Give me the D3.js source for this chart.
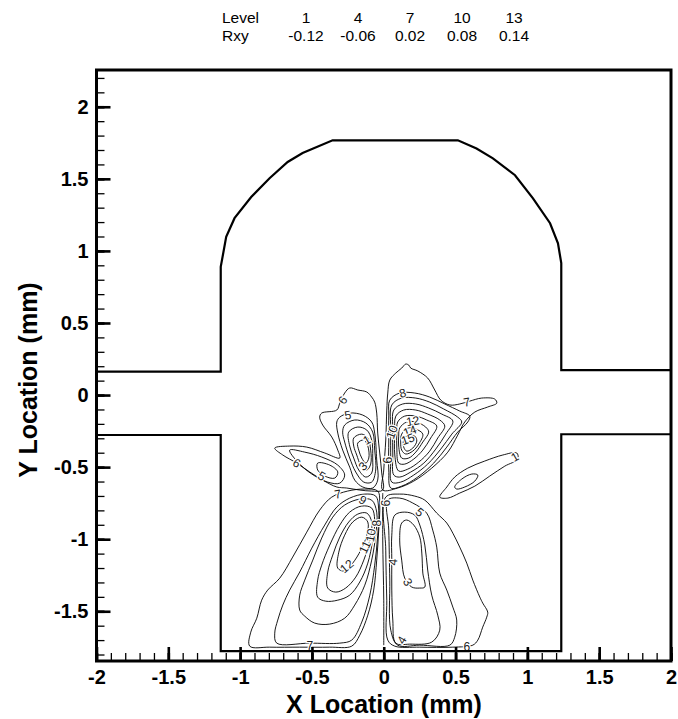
<!DOCTYPE html>
<html>
<head>
<meta charset="utf-8">
<script src="https://cdn.jsdelivr.net/npm/d3@7"></script>
<style>
body { margin: 0; background: #fff; }
text { font-family: "Liberation Sans", Arial, Helvetica, sans-serif; }
</style>
</head>
<body>
<svg id="chart" width="678" height="719"></svg>
<script>
'use strict';

// legend (contour level -> Rxy value)
var legendLevels = ['1', '4', '7', '10', '13'];
var legendValues = ['-0.12', '-0.06', '0.02', '0.08', '0.14'];

// axis ticks
var xTicks = [-2, -1.5, -1, -0.5, 0, 0.5, 1, 1.5, 2];
var xTickLabels = ['-2', '-1.5', '-1', '-0.5', '0', '0.5', '1', '1.5', '2'];
var yTicks = [-1.5, -1, -0.5, 0, 0.5, 1, 1.5, 2];
var yTickLabels = ['-1.5', '-1', '-0.5', '0', '0.5', '1', '1.5', '2'];

// channel walls (mm)
var upperWall = [[-2, 0.162], [-1.135, 0.162], [-1.135, 0.889], [-1.097, 1.097], [-1.039, 1.227], [-0.923, 1.374],
	[-0.795, 1.504], [-0.669, 1.617], [-0.565, 1.679], [-0.356, 1.767], [0.516, 1.767], [0.646, 1.710],
	[0.760, 1.642], [0.914, 1.525], [1.039, 1.365], [1.158, 1.192], [1.213, 1.053], [1.236, 0.915],
	[1.236, 0.173], [2, 0.173]];
var lowerWall = [[-2, -0.277], [-1.135, -0.277], [-1.135, -1.777], [1.236, -1.777], [1.236, -0.272], [2, -0.272]];

// upper left lobe (levels 6 .. 1)
var ul6 = [[-0.007, -0.659], [-0.014, -0.541], [-0.028, -0.402], [-0.042, -0.264], [-0.049, -0.125], [-0.063, -0.049],
	[-0.084, -0.014], [-0.118, 0.021], [-0.181, 0.035], [-0.237, 0.049], [-0.272, 0.014], [-0.306, -0.056],
	[-0.327, -0.104], [-0.432, -0.125], [-0.446, -0.153], [-0.425, -0.208], [-0.362, -0.291], [-0.320, -0.382],
	[-0.306, -0.437], [-0.411, -0.402], [-0.536, -0.361], [-0.655, -0.354], [-0.759, -0.368], [-0.703, -0.416],
	[-0.606, -0.472], [-0.515, -0.534], [-0.425, -0.590], [-0.327, -0.638], [-0.258, -0.645], [-0.167, -0.659],
	[-0.084, -0.666]];
var ul5 = [[-0.306, -0.153], [-0.237, -0.125], [-0.146, -0.139], [-0.084, -0.187], [-0.063, -0.264], [-0.049, -0.451],
	[-0.042, -0.590], [-0.077, -0.645], [-0.146, -0.638], [-0.202, -0.590], [-0.237, -0.500], [-0.286, -0.382],
	[-0.320, -0.264], [-0.327, -0.187]];
var ul4 = [[-0.272, -0.208], [-0.202, -0.173], [-0.125, -0.194], [-0.077, -0.257], [-0.063, -0.382], [-0.056, -0.520],
	[-0.084, -0.604], [-0.139, -0.604], [-0.195, -0.534], [-0.237, -0.437], [-0.272, -0.326], [-0.286, -0.257]];
var ul3 = [[-0.244, -0.257], [-0.181, -0.222], [-0.118, -0.243], [-0.084, -0.312], [-0.077, -0.437], [-0.084, -0.541],
	[-0.125, -0.569], [-0.174, -0.520], [-0.209, -0.437], [-0.237, -0.354]];
var ul2 = [[-0.209, -0.298], [-0.153, -0.271], [-0.111, -0.298], [-0.091, -0.382], [-0.091, -0.479], [-0.118, -0.520],
	[-0.160, -0.486], [-0.188, -0.416], [-0.209, -0.354]];
var ul1 = [[-0.181, -0.333], [-0.139, -0.312], [-0.111, -0.354], [-0.104, -0.437], [-0.125, -0.472], [-0.153, -0.437],
	[-0.174, -0.382]];

// far left lobe
var fl5 = [[-0.655, -0.382], [-0.550, -0.396], [-0.432, -0.430], [-0.320, -0.486], [-0.272, -0.555], [-0.306, -0.611],
	[-0.390, -0.604], [-0.501, -0.548], [-0.599, -0.465]];
var fl4 = [[-0.460, -0.472], [-0.376, -0.486], [-0.320, -0.534], [-0.341, -0.576], [-0.411, -0.562], [-0.460, -0.520]];

// upper right lobe (levels 7 .. 15)
var ur7 = [[-0.007, -0.659], [0, -0.520], [0.014, -0.312], [0.021, -0.104], [0.028, 0.014], [0.042, 0.104],
	[0.084, 0.153], [0.125, 0.187], [0.153, 0.215], [0.174, 0.208], [0.188, 0.187], [0.237, 0.167], [0.306, 0.118],
	[0.355, 0.035], [0.397, -0.035], [0.460, -0.069], [0.529, -0.062], [0.599, -0.042], [0.682, -0.021],
	[0.773, -0.028], [0.787, -0.056], [0.724, -0.083], [0.634, -0.118], [0.564, -0.187], [0.515, -0.278],
	[0.446, -0.396], [0.334, -0.507], [0.209, -0.597], [0.097, -0.645]];
var ur8 = [[0.042, -0.035], [0.111, 0.014], [0.216, 0.014], [0.320, -0.014], [0.425, -0.062], [0.529, -0.111],
	[0.599, -0.146], [0.585, -0.187], [0.515, -0.257], [0.439, -0.361], [0.348, -0.472], [0.237, -0.569],
	[0.125, -0.632], [0.049, -0.645], [0.035, -0.520], [0.035, -0.312], [0.035, -0.139]];
var ur9 = [[0.056, -0.069], [0.125, -0.021], [0.223, -0.021], [0.320, -0.049], [0.418, -0.097], [0.515, -0.153],
	[0.543, -0.187], [0.474, -0.271], [0.397, -0.375], [0.306, -0.479], [0.209, -0.555], [0.118, -0.604],
	[0.056, -0.604], [0.049, -0.451], [0.049, -0.243]];
var ur10 = [[0.070, -0.104], [0.132, -0.062], [0.223, -0.062], [0.313, -0.090], [0.404, -0.132], [0.481, -0.180],
	[0.432, -0.271], [0.362, -0.375], [0.279, -0.472], [0.188, -0.534], [0.111, -0.569], [0.070, -0.555],
	[0.063, -0.416], [0.063, -0.243]];
var ur11 = [[0.084, -0.146], [0.139, -0.104], [0.223, -0.104], [0.306, -0.132], [0.390, -0.173], [0.425, -0.215],
	[0.376, -0.298], [0.320, -0.389], [0.244, -0.465], [0.167, -0.514], [0.104, -0.527], [0.077, -0.416],
	[0.077, -0.257]];
var ur12 = [[0.097, -0.187], [0.146, -0.146], [0.223, -0.146], [0.299, -0.173], [0.369, -0.215], [0.327, -0.298],
	[0.272, -0.382], [0.209, -0.444], [0.146, -0.479], [0.104, -0.472], [0.091, -0.368], [0.091, -0.264]];
var ur13 = [[0.111, -0.229], [0.160, -0.187], [0.223, -0.187], [0.292, -0.222], [0.313, -0.257], [0.272, -0.326],
	[0.223, -0.396], [0.174, -0.437], [0.125, -0.437], [0.104, -0.354], [0.104, -0.285]];
var ur14 = [[0.125, -0.271], [0.167, -0.229], [0.223, -0.236], [0.272, -0.271], [0.244, -0.340], [0.202, -0.389],
	[0.153, -0.409], [0.125, -0.382], [0.118, -0.326]];
var ur15 = [[0.139, -0.312], [0.174, -0.278], [0.216, -0.285], [0.230, -0.319], [0.202, -0.368], [0.160, -0.389],
	[0.139, -0.361]];

// far right lobe
var fr1 = [[0.390, -0.708], [0.439, -0.638], [0.494, -0.569], [0.585, -0.507], [0.703, -0.458], [0.829, -0.416],
	[0.926, -0.402], [0.933, -0.444], [0.843, -0.493], [0.738, -0.562], [0.634, -0.632], [0.529, -0.680],
	[0.446, -0.715]];
var frIn = [[0.494, -0.638], [0.543, -0.583], [0.613, -0.548], [0.655, -0.555], [0.634, -0.597], [0.564, -0.638],
	[0.508, -0.652]];

// lower left lobe (levels 7 .. 12)
var ll7 = [[-0.933, -1.742], [-0.926, -1.645], [-0.884, -1.548], [-0.850, -1.423], [-0.808, -1.353], [-0.724, -1.270],
	[-0.634, -1.124], [-0.536, -0.951], [-0.446, -0.798], [-0.362, -0.708], [-0.251, -0.666], [-0.132, -0.652],
	[-0.042, -0.666], [-0.028, -0.763], [-0.035, -0.937], [-0.049, -1.145], [-0.070, -1.353], [-0.111, -1.527],
	[-0.167, -1.666], [-0.223, -1.742], [-0.376, -1.749], [-0.585, -1.749], [-0.794, -1.749]];
var ll8 = [[-0.745, -1.721], [-0.759, -1.652], [-0.738, -1.561], [-0.703, -1.457], [-0.655, -1.353], [-0.585, -1.228],
	[-0.501, -1.062], [-0.411, -0.902], [-0.327, -0.777], [-0.237, -0.715], [-0.132, -0.687], [-0.056, -0.701],
	[-0.035, -0.798], [-0.042, -0.972], [-0.063, -1.180], [-0.097, -1.388], [-0.153, -1.575], [-0.223, -1.700],
	[-0.306, -1.721], [-0.515, -1.721]];
var ll9 = [[-0.585, -1.492], [-0.585, -1.388], [-0.550, -1.284], [-0.494, -1.145], [-0.432, -0.992], [-0.355, -0.847],
	[-0.272, -0.763], [-0.167, -0.722], [-0.084, -0.729], [-0.049, -0.812], [-0.056, -0.972], [-0.084, -1.145],
	[-0.132, -1.319], [-0.202, -1.457], [-0.272, -1.548], [-0.376, -1.589], [-0.481, -1.582], [-0.550, -1.534]];
var ll10 = [[-0.460, -1.402], [-0.460, -1.284], [-0.432, -1.180], [-0.376, -1.041], [-0.306, -0.902], [-0.237, -0.812],
	[-0.153, -0.770], [-0.084, -0.784], [-0.063, -0.867], [-0.077, -1.006], [-0.111, -1.166], [-0.167, -1.297],
	[-0.237, -1.388], [-0.320, -1.423], [-0.404, -1.430]];
var ll11 = [[-0.390, -1.339], [-0.390, -1.228], [-0.355, -1.110], [-0.306, -0.985], [-0.244, -0.881], [-0.181, -0.826],
	[-0.118, -0.819], [-0.084, -0.881], [-0.097, -1.006], [-0.139, -1.145], [-0.195, -1.263], [-0.265, -1.339],
	[-0.334, -1.367]];
var ll12 = [[-0.320, -1.201], [-0.313, -1.090], [-0.272, -0.972], [-0.216, -0.881], [-0.153, -0.847], [-0.111, -0.881],
	[-0.118, -0.972], [-0.160, -1.076], [-0.216, -1.166], [-0.272, -1.221]];

// lower right lobe (levels 6 .. 3)
var lr6 = [[0.014, -0.708], [0.111, -0.687], [0.216, -0.701], [0.286, -0.729], [0.369, -0.819], [0.439, -0.888],
	[0.481, -0.958], [0.529, -1.055], [0.578, -1.166], [0.620, -1.284], [0.669, -1.402], [0.689, -1.443],
	[0.724, -1.506], [0.717, -1.541], [0.689, -1.610], [0.655, -1.700], [0.620, -1.735], [0.481, -1.749],
	[0.251, -1.749], [0.077, -1.742], [0.028, -1.700], [0.021, -1.423], [0.014, -1.076]];
var lr5 = [[0.028, -0.729], [0.111, -0.715], [0.202, -0.749], [0.299, -0.819], [0.341, -0.937], [0.369, -1.055],
	[0.390, -1.235], [0.439, -1.353], [0.481, -1.471], [0.508, -1.561], [0.494, -1.680], [0.460, -1.735],
	[0.251, -1.735], [0.097, -1.735], [0.049, -1.631], [0.042, -1.284], [0.035, -0.937]];
var lr4 = [[0.077, -0.833], [0.146, -0.812], [0.216, -0.833], [0.251, -0.902], [0.286, -1.041], [0.306, -1.214],
	[0.334, -1.388], [0.376, -1.527], [0.390, -1.631], [0.334, -1.714], [0.181, -1.728], [0.084, -1.721],
	[0.063, -1.561], [0.056, -1.353], [0.056, -1.145], [0.056, -0.972]];
var lr3 = [[0.125, -0.888], [0.160, -0.867], [0.209, -0.902], [0.251, -0.985], [0.265, -1.096], [0.272, -1.235],
	[0.286, -1.332], [0.251, -1.339], [0.195, -1.332], [0.146, -1.270], [0.125, -1.145], [0.111, -1.006]];

// open line between the two lower lobes
var centerLower = [[-0.007, -0.680], [-0.007, -1.006], [0, -1.423], [0, -1.735]];

var closedContours = [ul6, ul5, ul4, ul3, ul2, ul1, fl5, fl4, ur7, ur8, ur9, ur10, ur11, ur12, ur13, ur14, ur15,
	fr1, frIn, ll7, ll8, ll9, ll10, ll11, ll12, lr6, lr5, lr4, lr3];
var openContours = [centerLower];

// contour labels: text, x, y, angle
var contourLabels = [
	['6', -0.286, -0.035, -55], ['5', -0.251, -0.139, -10], ['1', -0.118, -0.312, -30], ['3', -0.146, -0.493, -45],
	['6', -0.606, -0.472, 30], ['5', -0.432, -0.562, 30], ['8', 0.132, 0.014, -15], ['7', 0.578, -0.049, -10],
	['12', 0.202, -0.180, -10], ['14', 0.181, -0.250, -20], ['15', 0.167, -0.305, -20], ['10', 0.056, -0.257, -70],
	['6', 0.028, -0.451, -90], ['1', 0.912, -0.430, -30], ['7', -0.320, -0.687, -10], ['9', -0.146, -0.729, 30],
	['9', 0.007, -0.749, 90], ['8', -0.049, -0.888, -90], ['10', -0.091, -0.972, -80], ['11', -0.132, -1.055, -65],
	['12', -0.258, -1.187, -40], ['4', 0.063, -1.159, -85], ['3', 0.167, -1.297, 60], ['5', 0.251, -0.812, 40],
	['4', 0.125, -1.700, -60], ['7', -0.515, -1.742, 0], ['6', 0.578, -1.749, 0]
];

var svg = d3.select('#chart');

var x = d3.scaleLinear().domain([-2, 2]).range([96.5, 671]);
var y = d3.scaleLinear().domain([-1.845, 2.255]).range([661, 70]);

// legend
var legendX = d3.scalePoint().domain(legendLevels).range([306, 514]);
var legend = svg.append('g').attr('font-size', 15.5).attr('fill', '#000');
legend.append('text').attr('x', 222).attr('y', 23).text('Level');
legend.append('text').attr('x', 222).attr('y', 41).text('Rxy');
legendLevels.forEach(function(lv, i) {
	legend.append('text').attr('x', legendX(lv)).attr('y', 23).attr('text-anchor', 'middle').text(lv);
	legend.append('text').attr('x', legendX(lv)).attr('y', 41).attr('text-anchor', 'middle').text(legendValues[i]);
});

// contours
var lineClosed = d3.line()
	.x(function(d) { return x(d[0]); })
	.y(function(d) { return y(d[1]); })
	.curve(d3.curveCatmullRomClosed.alpha(0.5));
var lineOpen = d3.line()
	.x(function(d) { return x(d[0]); })
	.y(function(d) { return y(d[1]); })
	.curve(d3.curveCatmullRom.alpha(0.5));

var cg = svg.append('g').attr('fill', 'none').attr('stroke', '#000').attr('stroke-width', 0.9);
cg.selectAll('path.closed').data(closedContours).enter().append('path')
	.attr('class', 'closed').attr('d', lineClosed);
cg.selectAll('path.open').data(openContours).enter().append('path')
	.attr('class', 'open').attr('d', lineOpen);

svg.append('g').selectAll('text').data(contourLabels).enter().append('text')
	.attr('transform', function(d) { return 'translate(' + x(d[1]) + ',' + y(d[2]) + ') rotate(' + d[3] + ')'; })
	.attr('text-anchor', 'middle')
	.attr('dy', '0.35em')
	.attr('font-size', 12)
	.attr('fill', '#222')
	.attr('stroke', '#fff')
	.attr('stroke-width', 2.5)
	.attr('paint-order', 'stroke')
	.text(function(d) { return d[0]; });

// walls
var wallLine = d3.line().x(function(d) { return x(d[0]); }).y(function(d) { return y(d[1]); });
svg.selectAll('path.wall').data([upperWall, lowerWall]).enter().append('path')
	.attr('class', 'wall')
	.attr('fill', 'none')
	.attr('stroke', '#000')
	.attr('stroke-width', 2.2)
	.attr('stroke-linejoin', 'miter')
	.attr('d', wallLine);

// axes, ticks point inward
var xMinor = d3.range(-20, 21).map(function(i) { return i / 10; });
var yMinor = d3.range(-18, 23).map(function(i) { return i / 10; });

function fmt(ticks, labels) {
	return function(d) { return labels[ticks.indexOf(d)]; };
}

var gx = svg.append('g').attr('transform', 'translate(0,' + y.range()[0] + ')');
gx.call(d3.axisBottom(x).tickValues(xMinor).tickSize(-8).tickFormat(''));
gx.append('g').call(d3.axisBottom(x).tickValues(xTicks).tickSize(-14).tickPadding(9).tickFormat(fmt(xTicks, xTickLabels)));

var gy = svg.append('g').attr('transform', 'translate(' + x.range()[0] + ',0)');
gy.call(d3.axisLeft(y).tickValues(yMinor).tickSize(-8).tickFormat(''));
gy.append('g').call(d3.axisLeft(y).tickValues(yTicks).tickSize(-14).tickPadding(8).tickFormat(fmt(yTicks, yTickLabels)));

svg.selectAll('.domain').remove();
svg.selectAll('.tick line').attr('stroke', '#000').attr('stroke-width', 1.3);
svg.selectAll('.tick text').attr('font-size', 20).attr('font-weight', 'bold').attr('fill', '#000')
	.attr('font-family', '"Liberation Sans", Arial, sans-serif');
gx.selectAll('.tick line').filter(function(d) { return xTicks.indexOf(d) >= 0; }).attr('stroke-width', 2.6);
gy.selectAll('.tick line').filter(function(d) { return yTicks.indexOf(d) >= 0; }).attr('stroke-width', 2.6);

// frame
svg.append('rect')
	.attr('x', x.range()[0]).attr('y', y.range()[1])
	.attr('width', x.range()[1] - x.range()[0])
	.attr('height', y.range()[0] - y.range()[1])
	.attr('fill', 'none').attr('stroke', '#000').attr('stroke-width', 3);

// axis titles
svg.append('text')
	.attr('x', 384).attr('y', 713)
	.attr('text-anchor', 'middle')
	.attr('font-size', 25).attr('font-weight', 'bold')
	.text('X Location (mm)');
svg.append('text')
	.attr('transform', 'translate(37,380) rotate(-90)')
	.attr('text-anchor', 'middle')
	.attr('font-size', 25).attr('font-weight', 'bold')
	.text('Y Location (mm)');
</script>
</body>
</html>
